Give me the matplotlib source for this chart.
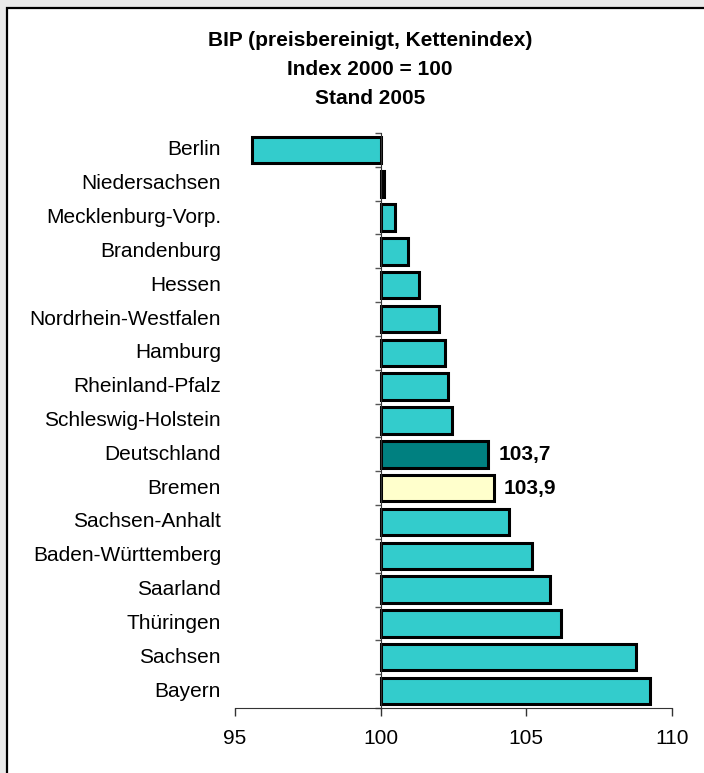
import numpy as np
import matplotlib
matplotlib.use("Agg")
import matplotlib.pyplot as plt
from matplotlib.patches import Rectangle
from matplotlib.transforms import blended_transform_factory

plt.rcParams['font.family'] = ['Liberation Sans', 'DejaVu Sans']

# BIP-Index je Land, von oben nach unten
laender = ["Berlin", "Niedersachsen", "Mecklenburg-Vorp.", "Brandenburg", "Hessen",
           "Nordrhein-Westfalen", "Hamburg", "Rheinland-Pfalz", "Schleswig-Holstein",
           "Deutschland", "Bremen", "Sachsen-Anhalt", "Baden-Württemberg", "Saarland",
           "Thüringen", "Sachsen", "Bayern"]
index_2005 = [95.6, 100.1, 100.5, 100.95, 101.3, 102.0, 102.2, 102.3, 102.45,
              103.7, 103.9, 104.4, 105.2, 105.8, 106.2, 108.75, 109.25]
beschriftet = {"Deutschland": "103,7", "Bremen": "103,9"}
basis = 100
x_ticks = [95, 100, 105, 110]

farben = []
for land in laender:
    if land == "Deutschland":
        farben.append("#008080")
    elif land == "Bremen":
        farben.append("#FFFFCC")
    else:
        farben.append("#33CCCC")

W, H = 704, 773
fig = plt.figure(figsize=(W / 100, H / 100), dpi=100)
fig.patch.set_facecolor("#eaeaea")

# weisser Rahmen mit schwarzer Kante
rahmen = Rectangle((7.5 / W, -0.05), 1.1, 1 - 8 / H + 0.05, transform=fig.transFigure,
                   facecolor="white", edgecolor="black", linewidth=1.6, zorder=0)
fig.add_artist(rahmen)

ax = fig.add_axes([235 / W, 1 - 708 / H, 437 / W, 575 / H])
ax.set_facecolor("none")

y = np.arange(len(laender))
werte = np.array(index_2005)
ax.barh(y, werte - basis, left=basis, height=0.78, color=farben,
        edgecolor="black", linewidth=2.2, zorder=3)

ax.set_xlim(95, 110)
ax.set_ylim(len(laender) - 0.5, -0.5)

ax.spines["top"].set_visible(False)
ax.spines["right"].set_visible(False)
ax.spines["left"].set_position(("data", basis))
ax.spines["left"].set_color("#333333")
ax.spines["bottom"].set_color("#333333")
ax.spines["left"].set_zorder(4)

ax.set_xticks(x_ticks)
ax.set_xticklabels([str(t) for t in x_ticks])
ax.tick_params(axis="x", direction="out", length=6, width=1, color="#333333",
               labelsize=15, pad=9)

# Teilstriche an den Kategoriegrenzen
ax.set_yticks(np.arange(len(laender) + 1) - 0.5)
ax.set_yticklabels([])
ax.tick_params(axis="y", direction="out", length=4, width=1, color="#555555")

trans = blended_transform_factory(ax.transAxes, ax.transData)
for i, land in enumerate(laender):
    ax.text(-0.032, i, land, transform=trans, ha="right", va="center", fontsize=15)

for i, land in enumerate(laender):
    if land in beschriftet:
        ax.annotate(beschriftet[land], xy=(werte[i], i), xytext=(7, 0),
                    textcoords="offset points", ha="left", va="center",
                    fontsize=15, fontweight="bold")

titel = ["BIP (preisbereinigt, Kettenindex)", "Index 2000 = 100", "Stand 2005"]
for k, zeile in enumerate(titel):
    fig.text(370 / W, 1 - (41 + 28.5 * k) / H, zeile, ha="center", va="center",
             fontsize=15, fontweight="bold")

fig.savefig("out.png", dpi=100, facecolor=fig.get_facecolor())
